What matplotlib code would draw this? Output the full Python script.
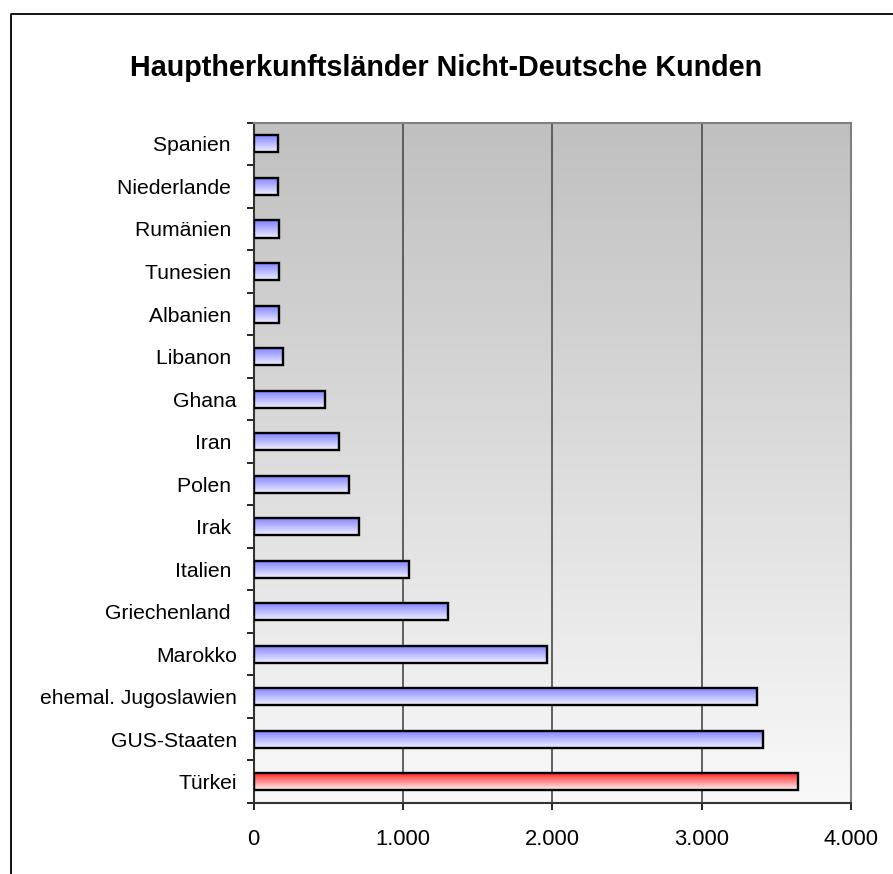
import matplotlib
matplotlib.use("Agg")
import matplotlib.pyplot as plt
import numpy as np
from matplotlib.colors import LinearSegmentedColormap
from matplotlib.lines import Line2D
from matplotlib.ticker import FuncFormatter, MultipleLocator

plt.rcParams["font.family"] = ["Liberation Sans", "DejaVu Sans"]

# Daten (von oben nach unten wie im Diagramm)
laender = [
    "Spanien ", "Niederlande ", "Rumänien ", "Tunesien ", "Albanien ",
    "Libanon ", "Ghana", "Iran ", "Polen ", "Irak ", "Italien ",
    "Griechenland ", "Marokko", "ehemal. Jugoslawien", "GUS-Staaten", "Türkei",
]
kunden = [163, 163, 173, 173, 173, 195, 481, 573, 642, 707, 1042, 1299,
          1967, 3372, 3414, 3642]
hervorgehoben = "Türkei"
x_ticks = [0, 1000, 2000, 3000, 4000]

W, H = 893, 874
fig = plt.figure(figsize=(W / 100, H / 100), dpi=100)
ax = fig.add_axes([253.5 / W, 1 - 803 / H, (851 - 253.5) / W, (803 - 122.7) / H])

# Hintergrund-Verlauf: grau oben -> fast weiss unten
bg = LinearSegmentedColormap.from_list("bg", ["#c0c0c0", "#f9f9f9"])
ax.imshow(np.linspace(0, 1, 256).reshape(-1, 1), cmap=bg, aspect="auto",
          origin="upper", extent=[0, 1, 0, 1], transform=ax.transAxes,
          zorder=0, interpolation="bilinear")

blau = LinearSegmentedColormap.from_list("blau", ["#7f7fff", "#f0f0ff"])
rot = LinearSegmentedColormap.from_list("rot", ["#ff2020", "#fff0f0"])

pos = np.arange(len(laender))
hoehe = 0.4
bars = ax.barh(pos, kunden, height=hoehe, facecolor="none",
               edgecolor="black", linewidth=1.7, zorder=4)
grad = np.linspace(0, 1, 64).reshape(-1, 1)
for bar, name, wert, y in zip(bars, laender, kunden, pos):
    cmap = rot if name.strip() == hervorgehoben else blau
    im = ax.imshow(grad, cmap=cmap, aspect="auto", origin="upper",
                   extent=[0, wert, y + hoehe / 2, y - hoehe / 2],
                   zorder=3, interpolation="bilinear")
    im.set_clip_path(bar)

# Gitterlinien
for xt in x_ticks[1:-1]:
    ax.axvline(xt, color="#555555", linewidth=1.3, zorder=1)

ax.set_xlim(0, 4000)
ax.set_ylim(len(laender) - 0.5, -0.5)

ax.set_xticks(x_ticks)
ax.xaxis.set_major_formatter(FuncFormatter(lambda v, p: f"{int(v):,}".replace(",", ".")))
ax.set_yticks(pos)
ax.set_yticklabels(laender)
ax.yaxis.set_minor_locator(MultipleLocator(1, offset=0.5))

ax.tick_params(axis="y", which="major", length=0, pad=12, labelsize=15.2)
ax.tick_params(axis="y", which="minor", length=5, width=1.2, color="black")
ax.tick_params(axis="x", which="major", length=5, width=1.2, pad=14,
               labelsize=15.8, color="black")

for side in ["left", "bottom"]:
    ax.spines[side].set_color("#333333")
    ax.spines[side].set_linewidth(1.5)
for side in ["top", "right"]:
    ax.spines[side].set_color("#808080")
    ax.spines[side].set_linewidth(1.5)

fig.text(0.5, 1 - 76 / H, "Hauptherkunftsländer Nicht-Deutsche Kunden",
         ha="center", va="baseline", fontsize=20.7, fontweight="bold")

# Rahmen des Diagrammbereichs
fx, fy = 11 / W, 1 - 13.5 / H
fig.add_artist(Line2D([fx, fx, 1], [0, fy, fy], transform=fig.transFigure,
                      color="black", linewidth=1.3))

fig.savefig("out.png", dpi=100, facecolor="white")
